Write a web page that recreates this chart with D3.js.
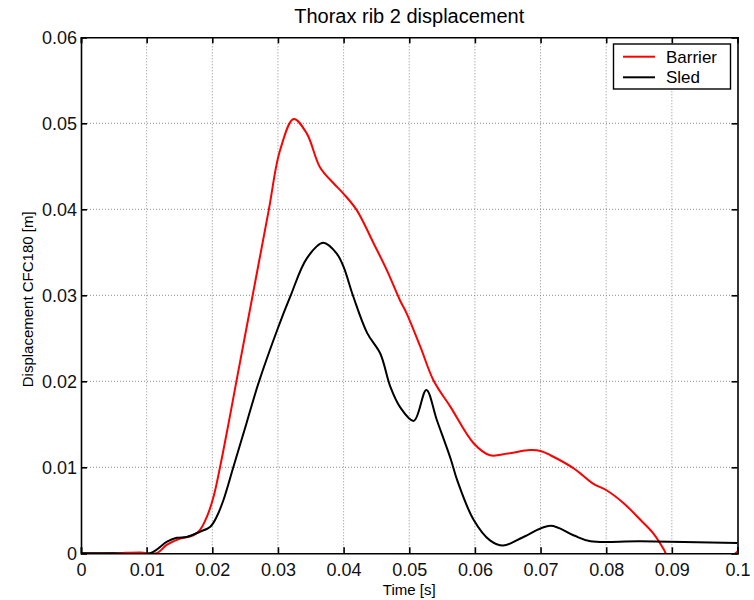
<!DOCTYPE html>
<html>
<head>
<meta charset="utf-8">
<script src="https://cdn.jsdelivr.net/npm/d3@7"></script>
<style>
  body { margin: 0; background: #fff; }
  svg { display: block; font-family: "Liberation Sans", Arial, sans-serif; }
  .grid line { stroke: #8c8c8c; stroke-width: 1; stroke-dasharray: 1,2; }
</style>
</head>
<body>
<svg width="754" height="600"></svg>
<script>
// time [s] and displacement [m]
const barrierT = [0, 0.005, 0.009, 0.0115, 0.0131, 0.0151, 0.0171, 0.0181, 0.0192, 0.0202, 0.0212, 0.0225, 0.0237, 0.026, 0.0286, 0.0303, 0.0324, 0.0344, 0.0364, 0.0385, 0.04, 0.042, 0.0446, 0.0466, 0.0486, 0.0496, 0.0517, 0.0537, 0.0563, 0.0598, 0.0623, 0.065, 0.0684, 0.07, 0.0715, 0.075, 0.078, 0.0801, 0.0827, 0.0852, 0.0872, 0.0888, 0.0893, 0.092, 0.096, 0.1]
const barrierV = [0, 0, 0.0001, 0, 0.001, 0.0017, 0.0021, 0.0027, 0.0043, 0.0066, 0.0101, 0.0152, 0.0201, 0.0294, 0.0399, 0.0468, 0.0505, 0.0488, 0.0449, 0.043, 0.0418, 0.0399, 0.036, 0.0329, 0.0294, 0.0279, 0.024, 0.0201, 0.017, 0.0128, 0.0114, 0.0116, 0.012, 0.0119, 0.0114, 0.0099, 0.0081, 0.0073, 0.0058, 0.0039, 0.0023, 0.0004, -0.0004, -0.003, -0.002, 0.0002]

const sledT = [0, 0.005, 0.0105, 0.0131, 0.0146, 0.0161, 0.0181, 0.0197, 0.0207, 0.0217, 0.0232, 0.0252, 0.027, 0.03, 0.0319, 0.0344, 0.0369, 0.039, 0.04, 0.0415, 0.0436, 0.0456, 0.0471, 0.0486, 0.0507, 0.0526, 0.0542, 0.0563, 0.0573, 0.0598, 0.0623, 0.0643, 0.0674, 0.0715, 0.075, 0.0776, 0.0852, 0.1]
const sledV = [0, 0, 0, 0.00135, 0.0018, 0.0019, 0.0025, 0.0031, 0.0043, 0.0062, 0.01, 0.0151, 0.0197, 0.0262, 0.0299, 0.0343, 0.0361, 0.0348, 0.0333, 0.0298, 0.0256, 0.0232, 0.0194, 0.017, 0.0154, 0.019, 0.0155, 0.011, 0.0085, 0.0039, 0.0015, 0.0009, 0.0019, 0.0032, 0.0021, 0.0014, 0.0014, 0.0012]

const xTicks = [0, 0.01, 0.02, 0.03, 0.04, 0.05, 0.06, 0.07, 0.08, 0.09, 0.1]
const yTicks = [0, 0.01, 0.02, 0.03, 0.04, 0.05, 0.06]
const seriesNames = ["Barrier", "Sled"]
const seriesColors = ["#ff0000", "#000000"]

const svg = d3.select("svg")
const pLeft = 81, pRight = 737.5, pTop = 37.3, pBottom = 553.3

const x = d3.scaleLinear().domain([0, 0.1]).range([pLeft, pRight])
const y = d3.scaleLinear().domain([0, 0.06]).range([pBottom, pTop])

const fmt = d => d === 0 ? "0" : String(+d.toFixed(2))

// grid
const grid = svg.append("g").attr("class", "grid")
grid.selectAll(".gx").data(xTicks.slice(1, -1)).enter().append("line")
    .attr("x1", d => x(d)).attr("x2", d => x(d)).attr("y1", pTop).attr("y2", pBottom)
grid.selectAll(".gy").data(yTicks.slice(1, -1)).enter().append("line")
    .attr("x1", pLeft).attr("x2", pRight).attr("y1", d => y(d)).attr("y2", d => y(d))

// curves
svg.append("clipPath").attr("id", "clip").append("rect")
    .attr("x", pLeft).attr("y", pTop).attr("width", pRight - pLeft).attr("height", pBottom - pTop)

const line = d3.line().x(d => x(d[0])).y(d => y(d[1])).curve(d3.curveCatmullRom.alpha(0.5))
const series = [d3.zip(barrierT, barrierV), d3.zip(sledT, sledV)]

svg.append("g").attr("clip-path", "url(#clip)")
    .selectAll("path").data(series).enter().append("path")
    .attr("d", line)
    .attr("fill", "none")
    .attr("stroke", (d, i) => seriesColors[i])
    .attr("stroke-width", 2)
    .attr("stroke-linejoin", "round")

// axes, ticks inward on all four sides
const tl = 6
svg.append("g").attr("transform", `translate(0,${pBottom})`)
    .call(d3.axisBottom(x).tickValues(xTicks).tickSize(-tl).tickPadding(10).tickFormat(fmt))
svg.append("g").attr("transform", `translate(0,${pTop})`)
    .call(d3.axisTop(x).tickValues(xTicks).tickSize(-tl).tickFormat(""))
svg.append("g").attr("transform", `translate(${pLeft},0)`)
    .call(d3.axisLeft(y).tickValues(yTicks).tickSize(-tl).tickPadding(4).tickFormat(fmt))
svg.append("g").attr("transform", `translate(${pRight},0)`)
    .call(d3.axisRight(y).tickValues(yTicks).tickSize(-tl).tickFormat(""))

svg.selectAll(".domain").attr("stroke", "#000").attr("stroke-width", 1.6)
svg.selectAll(".tick line").attr("stroke", "#000").attr("stroke-width", 1.6)
svg.selectAll(".tick text").attr("font-size", 18).attr("fill", "#111")
    .attr("font-family", "'Liberation Sans', Arial, sans-serif")

// titles
svg.append("text").attr("x", (pLeft + pRight) / 2).attr("y", 23)
    .attr("text-anchor", "middle").attr("font-size", 20).text("Thorax rib 2 displacement")
svg.append("text").attr("x", (pLeft + pRight) / 2).attr("y", 595)
    .attr("text-anchor", "middle").attr("font-size", 15).text("Time [s]")
svg.append("text").attr("transform", `translate(33,${(pTop + pBottom) / 2 + 4}) rotate(-90)`)
    .attr("text-anchor", "middle").attr("font-size", 15).text("Displacement CFC180 [m]")

// legend
const lg = svg.append("g")
lg.append("rect").attr("x", 613.5).attr("y", 44).attr("width", 117).attr("height", 45)
    .attr("fill", "#fff").attr("stroke", "#000").attr("stroke-width", 1.4)
seriesNames.forEach((n, i) => {
    const yy = 56.7 + i * 20.6
    lg.append("line").attr("x1", 623).attr("x2", 655).attr("y1", yy).attr("y2", yy)
        .attr("stroke", seriesColors[i]).attr("stroke-width", 2)
    lg.append("text").attr("x", 666).attr("y", yy + 6).attr("font-size", 17).text(n)
})
</script>
</body>
</html>
